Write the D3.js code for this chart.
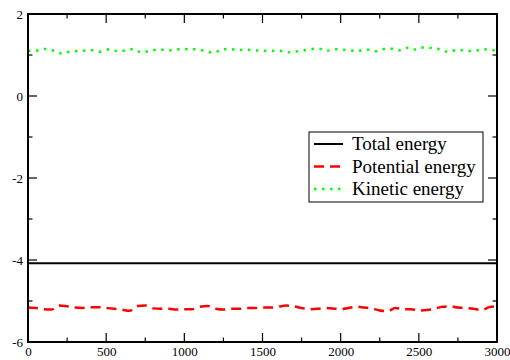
<!DOCTYPE html>
<html>
<head>
<meta charset="utf-8">
<script src="https://cdn.jsdelivr.net/npm/d3@7"></script>
<style>
  body { margin: 0; background: #fff; }
  svg text { font-family: "Liberation Serif", "Times New Roman", Times, "DejaVu Serif", serif; }
</style>
</head>
<body>
<script>
// Data
var xTicks = [0, 500, 1000, 1500, 2000, 2500, 3000];
var yTicks = [-6, -4, -2, 0, 2];

// sampled every 50 steps
var potentialEnergy = [
  -5.16, -5.17, -5.20, -5.21, -5.11, -5.13, -5.16, -5.17, -5.15, -5.15,
  -5.17, -5.19, -5.21, -5.24, -5.12, -5.11, -5.18, -5.19, -5.19, -5.21,
  -5.20, -5.20, -5.14, -5.12, -5.19, -5.21, -5.19, -5.19, -5.17, -5.17,
  -5.16, -5.16, -5.14, -5.11, -5.13, -5.17, -5.20, -5.19, -5.17, -5.18,
  -5.20, -5.17, -5.14, -5.16, -5.18, -5.23, -5.25, -5.17, -5.20, -5.20,
  -5.23, -5.22, -5.19, -5.14, -5.13, -5.16, -5.17, -5.19, -5.22, -5.15,
  -5.13
];

// evenly spread over 0..3000
var kineticEnergy = [
  1.106, 1.106, 1.146, 1.114, 1.041, 1.073, 1.098, 1.106, 1.114, 1.081,
  1.138, 1.098, 1.106, 1.146, 1.065, 1.098, 1.130, 1.122, 1.114, 1.154,
  1.138, 1.138, 1.089, 1.057, 1.138, 1.146, 1.122, 1.130, 1.114, 1.106,
  1.098, 1.106, 1.065, 1.081, 1.106, 1.146, 1.154, 1.106, 1.138,
  1.130, 1.106, 1.106, 1.130, 1.089, 1.146, 1.154, 1.114, 1.179, 1.130,
  1.187, 1.171, 1.138, 1.073, 1.122, 1.114, 1.098, 1.130, 1.138, 1.081
];

var totalEnergy = [-4.08, -4.08, -4.08, -4.08, -4.08, -4.08, -4.08];

var legendLabels = ["Total energy", "Potential energy", "Kinetic energy"];

var serif = "'Liberation Serif', 'Times New Roman', Times, serif";
var width = 510, height = 360;
var margin = { top: 14, right: 13, bottom: 18, left: 28 };

var svg = d3.select("body").append("svg")
  .attr("width", width)
  .attr("height", height);

var x = d3.scaleLinear().domain([0, 3000]).range([margin.left, width - margin.right]);
var y = d3.scaleLinear().domain([-6, 2]).range([height - margin.bottom, margin.top]);

function toPoints(values) {
  var n = values.length;
  return values.map(function (v, i) { return [i * 3000 / (n - 1), v]; });
}

var line = d3.line()
  .x(function (d) { return x(d[0]); })
  .y(function (d) { return y(d[1]); })
  .curve(d3.curveMonotoneX);

// series
var series = [
  { values: totalEnergy, stroke: "#000", width: 2, dash: null },
  { values: potentialEnergy, stroke: "#ff0000", width: 2.5, dash: "10,6" },
  { values: kineticEnergy, stroke: "#00ff00", width: 2.5, dash: "2.5,5.5" }
];

svg.append("g").selectAll("path")
  .data(series)
  .enter().append("path")
  .attr("d", function (d) { return line(toPoints(d.values)); })
  .attr("fill", "none")
  .attr("stroke", function (d) { return d.stroke; })
  .attr("stroke-width", function (d) { return d.width; })
  .attr("stroke-dasharray", function (d) { return d.dash; });

// axes, ticks pointing inward on all four sides
var xMinor = d3.range(0, 3001, 250);
var yMinor = d3.range(-6, 2.01, 1);

var bottom = d3.axisBottom(x).tickValues(xTicks).tickFormat(d3.format("d")).tickSize(0).tickPadding(5);
var left = d3.axisLeft(y).tickValues(yTicks).tickFormat(function (d) { return String(d); }).tickSize(0).tickPadding(5);

var gx = svg.append("g")
  .attr("transform", "translate(0," + (height - margin.bottom) + ")")
  .call(bottom);
gx.select(".domain").remove();
gx.selectAll("text").attr("fill", "#000")
  .style("font-family", serif).style("font-size", "13px");

var gy = svg.append("g")
  .attr("transform", "translate(" + margin.left + ",0)")
  .call(left);
gy.select(".domain").remove();
gy.selectAll("text").attr("fill", "#000")
  .style("font-family", serif).style("font-size", "13px");

var ticks = svg.append("g").attr("stroke", "#000").attr("stroke-width", 1.2);

xMinor.forEach(function (t) {
  var len = (t % 500 === 0) ? 9 : 4.5;
  ticks.append("line")
    .attr("x1", x(t)).attr("x2", x(t))
    .attr("y1", y(-6)).attr("y2", y(-6) - len);
  ticks.append("line")
    .attr("x1", x(t)).attr("x2", x(t))
    .attr("y1", y(2)).attr("y2", y(2) + len);
});

yMinor.forEach(function (t) {
  var len = (Math.abs(t) % 2 === 0) ? 9 : 4.5;
  ticks.append("line")
    .attr("x1", x(0)).attr("x2", x(0) + len)
    .attr("y1", y(t)).attr("y2", y(t));
  ticks.append("line")
    .attr("x1", x(3000)).attr("x2", x(3000) - len)
    .attr("y1", y(t)).attr("y2", y(t));
});

// frame
svg.append("rect")
  .attr("x", x(0))
  .attr("y", y(2))
  .attr("width", x(3000) - x(0))
  .attr("height", y(-6) - y(2))
  .attr("fill", "none")
  .attr("stroke", "#000")
  .attr("stroke-width", 2);

// legend
var legend = svg.append("g").attr("transform", "translate(309,132)");

legend.append("rect")
  .attr("width", 174)
  .attr("height", 70)
  .attr("fill", "#fff")
  .attr("stroke", "#000")
  .attr("stroke-width", 1);

var item = legend.selectAll("g.item")
  .data(series)
  .enter().append("g")
  .attr("class", "item")
  .attr("transform", function (d, i) { return "translate(0," + (12 + i * 22.5) + ")"; });

item.append("line")
  .attr("x1", 5).attr("x2", 34)
  .attr("y1", 0).attr("y2", 0)
  .attr("stroke", function (d) { return d.stroke; })
  .attr("stroke-width", function (d) { return d.width; })
  .attr("stroke-dasharray", function (d) { return d.dash; });

item.append("text")
  .attr("x", 43)
  .attr("y", 6)
  .attr("fill", "#000")
  .style("font-family", serif)
  .style("font-size", "19px")
  .text(function (d, i) { return legendLabels[i]; });
</script>
</body>
</html>
